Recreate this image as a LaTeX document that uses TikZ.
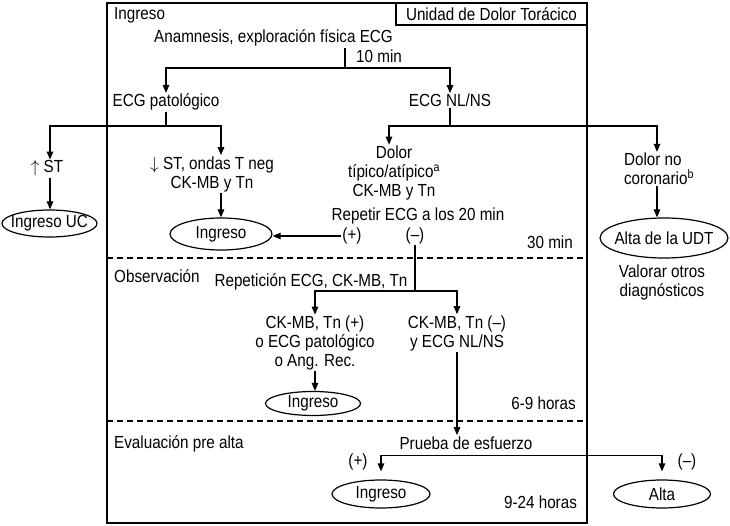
\documentclass[tikz,border=0pt]{standalone}
\usepackage{fontspec}
\setmainfont{Liberation Sans}[FakeStretch=0.87]
\usetikzlibrary{arrows.meta,shapes.geometric}
\begin{document}
\begin{tikzpicture}[x=1pt,y=-1pt,
  every node/.style={font=\fontsize{17.5}{19}\selectfont, inner sep=1pt},
  ln/.style={line width=1.2pt},
  arr/.style={line width=1.2pt,-{Triangle[length=8pt,width=6.5pt]}},
  oval/.style={draw, ellipse, line width=1.2pt, inner sep=0pt},
  dashln/.style={line width=1.1pt, dash pattern=on 6pt off 4pt},
  lbl/.style={anchor=base}]
\useasboundingbox (0,0) rectangle (730,526);
% frame
\draw[ln] (107,3) rectangle (587,523);
\node[draw, ln, minimum width=191pt, minimum height=22pt, inner sep=0pt] (udtlbl) at (491.5,14) {Unidad de Dolor Torácico};
\draw[dashln] (107,258) -- (587,258);
\draw[dashln] (107,421) -- (587,421);
% texts
\node[anchor=base west] (sec1) at (113,20) {Ingreso};
\node[lbl] (anam) at (273.5,43) {Anamnesis, exploración física ECG};
\node[anchor=base west] (t10) at (355,63) {10 min};
\node[lbl] (ecgp) at (166,107) {ECG patológico};
\node[lbl] (ecgn) at (450,107) {ECG NL/NS};
\node[lbl] (stup) at (47,173) {$\uparrow$ ST};
\node[align=center] (stdown) at (212,174) {$\downarrow$ ST, ondas T neg\\CK-MB y Tn};
\node[oval, minimum width=95pt, minimum height=27pt, label=center:{Ingreso UC}] (ingUC) at (49.5,223.5) {};
\node[oval, minimum width=102pt, minimum height=32pt, label=center:{Ingreso}] (ingA) at (221,234) {};
\node[align=center] (dolor) at (394,173) {Dolor\\típico/atípico\textsuperscript{a}\\CK-MB y Tn};
\node[lbl] (rep) at (418,221) {Repetir ECG a los 20 min};
\node (pos1) at (352,236) {(+)};
\node (neg1) at (415,236) {(\textendash)};
\node[lbl] (t30) at (550,249) {30 min};
\node[align=left] (ncor) at (659,169) {Dolor no\\coronario\textsuperscript{b}};
\node[oval, minimum width=128pt, minimum height=40pt, label=center:{Alta de la UDT}] (altaUDT) at (664,238) {};
\node[align=center] (valor) at (662,282) {Valorar otros\\diagnósticos};
\node[anchor=base west] (sec2) at (113,283) {Observación};
\node[lbl] (repet) at (311,287) {Repetición ECG, CK-MB, Tn};
\node[align=center] (ckpos) at (315,343) {CK-MB, Tn (+)\\o ECG patológico\\o Ang. Rec.};
\node[align=center] (ckneg) at (457,333) {CK-MB, Tn (\textendash)\\y ECG NL/NS};
\node[oval, minimum width=95pt, minimum height=24pt, label=center:{Ingreso}] (ingB) at (313,403.5) {};
\node[lbl] (t69) at (543.5,409) {6-9 horas};
\node[anchor=base west] (sec3) at (113,448) {Evaluación pre alta};
\node[lbl] (prueba) at (466,449) {Prueba de esfuerzo};
\node (pos2) at (358,462) {(+)};
\node (neg2) at (687,462) {(\textendash)};
\node[oval, minimum width=98pt, minimum height=28pt, label=center:{Ingreso}] (ingC) at (381,494) {};
\node[oval, minimum width=97pt, minimum height=28pt, label=center:{Alta}] (alta) at (662,494) {};
\node[lbl] (t924) at (540.5,508) {9-24 horas};
% connectors
\coordinate (j1) at (345,68);
\draw[ln] (anam.south -| j1) -- (j1);
\draw[arr] (j1) -| (ecgp.north);
\draw[arr] (j1) -| (ecgn.north);
\coordinate (j2) at (166,126);
\draw[ln] (ecgp.south) -- (j2);
\draw[arr] (j2) -| ([xshift=3pt]stup.north);
\draw[arr] (j2) -| (stdown.north -| ingA.north);
\draw[arr] ([xshift=3pt]stup.south) -- ([xshift=3pt]stup.south |- ingUC.north);
\draw[arr] (stdown.south -| ingA.north) -- (ingA.north);
\coordinate (j3) at (450,126);
\draw[ln] (ecgn.south) -- (j3);
\draw[arr] (j3) -| ([xshift=-5pt]dolor.north);
\draw[arr] (j3) -| ([xshift=-2pt]ncor.north);
\draw[arr] ([xshift=-2pt]ncor.south) -- ([xshift=-2pt]ncor.south |- altaUDT.north);
\draw[arr] (pos1.west) -- (pos1.west -| ingA.east);
\coordinate (j4) at (415,291);
\draw[ln] (neg1.south) -- (j4);
\draw[arr] (j4) -| (ckpos.north);
\draw[arr] (j4) -| (ckneg.north);
\draw[arr] (ckpos.south) -- (ckpos.south |- ingB.north);
\draw[arr] (ckneg.south) -- (ckneg.south |- prueba.north);
\path (prueba.south) ++(0,5) coordinate (j5);
\draw[arr] (j5) -| ([yshift=8pt]ingC.north);
\draw[arr] (j5) -| ([yshift=8pt]alta.north);
\end{tikzpicture}
\end{document}
